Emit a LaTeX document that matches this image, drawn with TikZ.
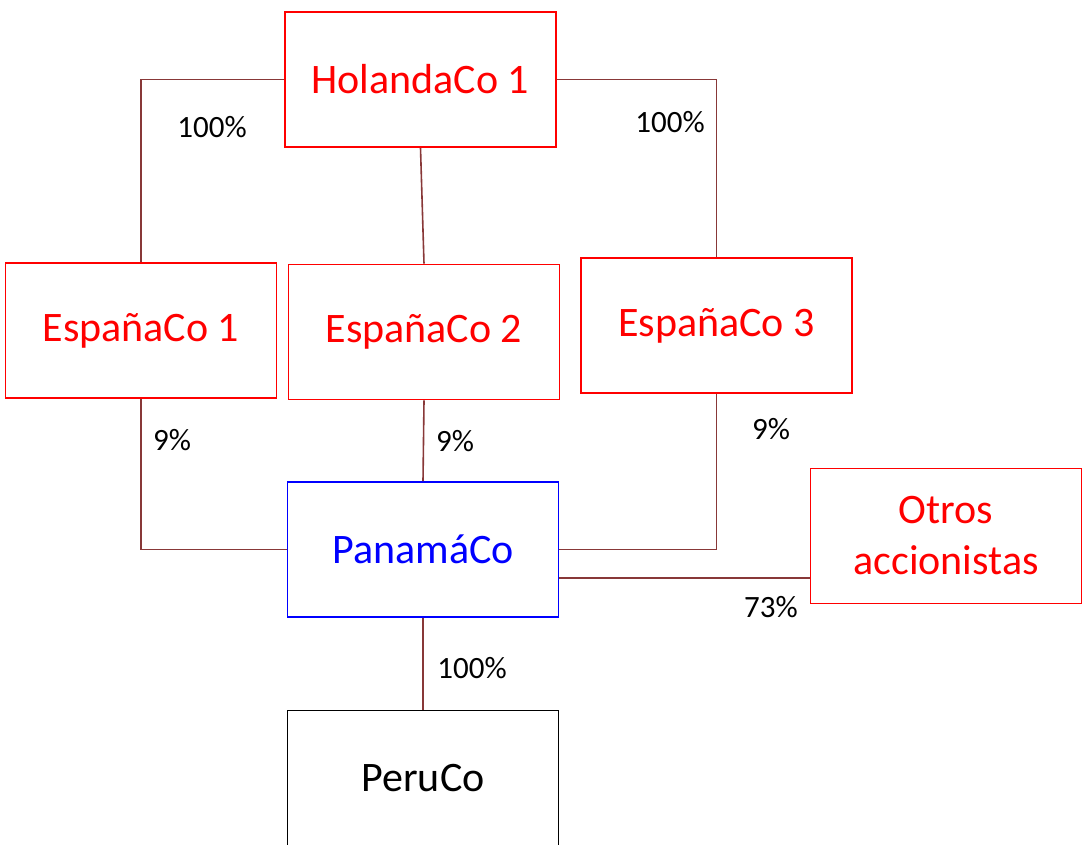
\documentclass[tikz,border=0pt]{standalone}
\usepackage{fontspec}
\setmainfont{Carlito}
\usetikzlibrary{calc}
\definecolor{conn}{RGB}{136,56,56}
\definecolor{bred}{RGB}{255,0,0}
\definecolor{bblue}{RGB}{0,0,255}
\begin{document}
\begin{tikzpicture}[x=1pt,y=-1pt,
  company/.style={draw, rectangle, line width=1.6pt, minimum width=271pt, minimum height=135pt, inner sep=0pt, font=\fontsize{42}{51}\selectfont, align=center},
  redbox/.style={company, draw=bred, text=bred},
  bluebox/.style={company, draw=bblue, text=bblue},
  blackbox/.style={company, draw=black, text=black, line width=1.3pt},
  link/.style={draw=conn, line width=1.6pt},
  pct/.style={font=\fontsize{31}{36}\selectfont, text=black, inner sep=0pt}]
\useasboundingbox (0,0) rectangle (1086,844);
\node[redbox] (hol) at (420.5,79.5) {HolandaCo 1};
\node[redbox] (e1) at (141,330.5) {EspañaCo 1};
\node[redbox] (e2) at (424,332) {EspañaCo 2};
\node[redbox] (e3) at (716.5,325.5) {EspañaCo 3};
\node[bluebox] (pan) at (423,549.5) {PanamáCo};
\node[redbox] (otros) at (946,536) {Otros\\accionistas};
\node[blackbox] (peru) at (423,778) {PeruCo};
\coordinate (c73) at ($(pan.east)+(0,28.5)$);
\draw[link] (hol.west) -| (e1.north);
\draw[link] (hol.south) -- (e2.north);
\draw[link] (hol.east) -| (e3.north);
\draw[link] (e1.south) |- (pan.west);
\draw[link] (e2.south) -- (pan.north);
\draw[link] (e3.south) |- (pan.east);
\draw[link] (c73) -- (c73 -| otros.west);
\draw[link] (pan.south) -- (peru.north);
\node[pct] (l1) at (212,127) {100\%};
\node[pct] (l2) at (670,122) {100\%};
\node[pct] (l3) at (172,440) {9\%};
\node[pct] (l4) at (455,441) {9\%};
\node[pct] (l5) at (771,429) {9\%};
\node[pct] (l6) at (771,607) {73\%};
\node[pct] (l7) at (472,668) {100\%};
\end{tikzpicture}
\end{document}
